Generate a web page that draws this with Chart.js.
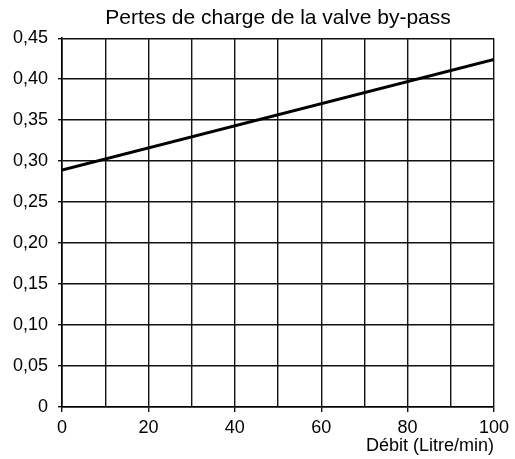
<!DOCTYPE html>
<html>
<head>
<meta charset="utf-8">
<script src="https://cdn.jsdelivr.net/npm/chart.js@4/dist/chart.umd.min.js"></script>
<style>
  body { margin: 0; background: #fff; }
</style>
</head>
<body>
<canvas id="myChart" width="515" height="459"></canvas>
<script>
// Débit (Litre/min) and pressure loss at each end of the line
const debit = [0, 100];
const pertes = [0.289, 0.424];
const xLabels = [0, 20, 40, 60, 80, 100];

const fmt = v => v === 0 ? '0' : v.toFixed(2).replace('.', ',');

// centre the title over the plot area instead of the whole canvas
const titleOverPlot = {
  id: 'titleOverPlot',
  afterLayout(chart) {
    const t = chart.titleBlock;
    if (t) {
      t.left = chart.chartArea.left;
      t.right = chart.chartArea.right;
    }
  }
};

const ctx = document.getElementById('myChart');
new Chart(ctx, {
  type: 'line',
  data: {
    datasets: [{
      data: debit.map((d, i) => ({ x: d, y: pertes[i] })),
      borderColor: '#000',
      borderWidth: 3,
      pointRadius: 0,
      tension: 0,
      fill: false
    }]
  },
  plugins: [titleOverPlot],
  options: {
    responsive: false,
    animation: false,
    layout: { padding: { left: 0, right: 21, top: 0, bottom: 0 } },
    plugins: {
      legend: { display: false },
      tooltip: { enabled: false },
      title: {
        display: true,
        text: 'Pertes de charge de la valve by-pass',
        color: '#000',
        font: { family: 'Liberation Sans', size: 21, weight: 'normal' },
        padding: { top: 6, bottom: 7 }
      }
    },
    scales: {
      x: {
        type: 'linear',
        min: 0,
        max: 100,
        afterFit: s => { s.height = 52; },
        ticks: {
          stepSize: 10,
          autoSkip: false,
          maxRotation: 0,
          color: '#000',
          padding: 5,
          font: { family: 'Liberation Sans', size: 18 },
          callback: v => xLabels.includes(v) ? String(v) : ''
        },
        grid: {
          color: '#111',
          lineWidth: 1.4,
          tickLength: 5,
          tickColor: c => xLabels.includes(c.tick && c.tick.value) ? '#111' : 'rgba(0,0,0,0)'
        },
        border: { color: '#000', width: 1.6 },
        title: {
          display: true,
          text: 'Débit (Litre/min)',
          align: 'end',
          color: '#000',
          font: { family: 'Liberation Sans', size: 18 },
          padding: { top: 0, bottom: 2 }
        }
      },
      y: {
        min: 0,
        max: 0.45,
        afterFit: s => { s.width = 62; },
        ticks: {
          stepSize: 0.05,
          color: '#000',
          padding: 10,
          font: { family: 'Liberation Sans', size: 18 },
          callback: v => fmt(v)
        },
        grid: { color: '#111', lineWidth: 1.4, tickLength: 4, tickColor: '#111' },
        border: { color: '#000', width: 1.6 }
      }
    }
  }
});
</script>
</body>
</html>
